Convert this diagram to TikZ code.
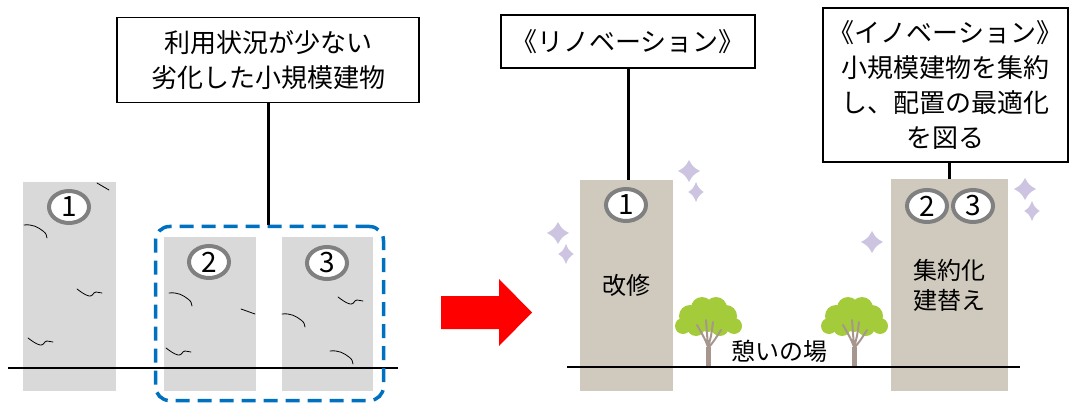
\documentclass[tikz,border=0pt]{standalone}
\usepackage{fontspec}
\setmainfont{Noto Sans CJK JP}
\usetikzlibrary{shapes.geometric}

\definecolor{oldgray}{RGB}{217,217,217}
\definecolor{newbeige}{RGB}{208,201,189}
\definecolor{ringgray}{RGB}{128,128,128}
\definecolor{groupblue}{RGB}{0,112,192}
\definecolor{sparklepurple}{RGB}{204,196,224}
\definecolor{leafgreen}{RGB}{164,204,58}
\definecolor{trunkbrown}{RGB}{166,150,142}

\tikzset{
	textbox/.style={draw,line width=1.5pt,align=center,inner sep=0pt,
		font=\fontsize{26}{35}\selectfont},
	oldbldg/.style={fill=oldgray,inner sep=0pt},
	newbldg/.style={fill=newbeige,inner sep=0pt,align=center,
		font=\fontsize{24}{30}\selectfont},
	numring/.style={ellipse,draw=ringgray,line width=4pt,fill=white,
		minimum width=40pt,minimum height=32pt,inner sep=0pt,
		font=\fontsize{28}{28}\selectfont},
	link/.style={line width=3pt},
	ground/.style={line width=2.5pt},
	crackline/.style={line width=.8pt,line cap=round},
	% crack ending with a drop
	crackdrop/.pic={
		\draw[crackline] (0,0) .. controls (8,-1) and (14,2) .. (19,6)
		.. controls (22,8) and (23,11) .. (23,13);
	},
	% crack with a dip and a flat tail
	crackstep/.pic={
		\draw[crackline] (0,0) .. controls (4,3) and (8,6) .. (12,7)
		.. controls (16,8) and (16,3) .. (19,3)
		.. controls (21,3) and (23,4) .. (25,4);
	},
	sparkle/.pic={
		\fill[sparklepurple] (0,-11) .. controls (4,-4) .. (11,0)
		.. controls (4,4) .. (0,11) .. controls (-4,4) .. (-11,0)
		.. controls (-4,-4) .. cycle;
	},
	tree/.pic={
		\fill[leafgreen] (-6,-59) circle (11) (8,-59) circle (11)
		(-18,-51) circle (11) (18,-51) circle (11) (0,-48) circle (13)
		(-25,-41) circle (8) (26,-41) circle (8) (-12,-40) circle (9)
		(12,-40) circle (9);
		\draw[trunkbrown,line width=5pt] (0,0) -- (0,-20);
		\draw[trunkbrown,line width=2pt,line cap=round]
		(0,-20) .. controls (-3,-28) .. (-11,-42)
		(0,-20) -- (-2,-47)
		(0,-20) .. controls (3,-30) .. (5,-45)
		(1,-20) .. controls (6,-26) .. (13,-37);
	},
}

\begin{document}
\begin{tikzpicture}[x=1pt,y=-1pt]
	\useasboundingbox (0,0) rectangle (1075,403);
	
	% before: three old buildings
	\node[oldbldg,minimum width=93pt,minimum height=209pt] (bldA) at (69.5,286.5) {};
	\node[oldbldg,minimum width=92pt,minimum height=154pt] (bldB) at (210,314) {};
	\node[oldbldg,minimum width=91pt,minimum height=154pt] (bldC) at (327.5,314) {};
	\draw[crackline] (97,183) -- (109,190);
	\draw[crackline] (241,309) -- (255,314);
	\pic at (24,225) {crackdrop};
	\pic at (77,289) {crackstep};
	\pic at (28,338) {crackstep};
	\pic at (169,293) {crackdrop};
	\pic at (166,348) {crackstep};
	\pic at (338,297) {crackstep};
	\pic at (282,314) {crackdrop};
	\pic at (330,351) {crackdrop};
	\coordinate (gA) at (8,368);
	\coordinate (gB) at (398,368);
	\draw[ground] (gA) -- (gB);
	\node[draw=groupblue,line width=3.5pt,dash pattern=on 14pt off 8pt,
	rounded corners=14pt,minimum width=228pt,minimum height=174pt] (group) at (269.5,313.5) {};
	\node[numring] (num1) at (69,207) {1};
	\node[numring] (num2) at (209,262) {2};
	\node[numring] (num3) at (327,263) {3};
	\node[textbox,minimum width=302pt,minimum height=85pt] (oldbox) at (268,60)
	{利用状況が少ない\\劣化した小規模建物};
	\draw[link] (oldbox.south) -- (oldbox.south |- group.north);
	
	% arrow
	\fill[red] (441,296) -- (499,296) -- (499,279) -- (532,312.5)
	-- (499,346) -- (499,329) -- (441,329) -- cycle;
	
	% after: renovated and rebuilt buildings
	\node[newbldg,minimum width=93pt,minimum height=211pt] (renobldg) at (626.5,285.5) {改修};
	\node[newbldg,minimum width=117pt,minimum height=212pt] (innobldg) at (949.5,285) {集約化\\建替え};
	\pic at (708,367) {tree};
	\pic at (854,367) {tree};
	\coordinate (gC) at (567,367);
	\coordinate (gD) at (1020,367);
	\draw[ground] (gC) -- (gD);
	\node[font=\fontsize{24}{24}\selectfont] (plaza) at (779,351) {憩いの場};
	\node[numring] (renonum) at (626,205) {1};
	\node[numring] (innonum2) at (927,206) {2};
	\node[numring] (innonum3) at (973,206) {3};
	\pic at (558,233) {sparkle};
	\pic[xscale=.7,yscale=.9] at (566,254) {sparkle};
	\pic at (689,171) {sparkle};
	\pic[xscale=.7,yscale=.9] at (696,192) {sparkle};
	\pic at (872,242) {sparkle};
	\pic at (1025,189) {sparkle};
	\pic[xscale=.7,yscale=.9] at (1032,211) {sparkle};
	\node[textbox,minimum width=254pt,minimum height=53pt] (renobox) at (628,41.5)
	{《リノベーション》};
	\node[textbox,minimum width=245pt,minimum height=154pt] (innobox) at (945.5,85)
	{《イノベーション》\\小規模建物を集約\\し、配置の最適化\\を図る};
	\draw[link] (renobox.south) -- (renobox.south |- renobldg.north);
	\draw[link] (innobldg.north |- innobox.south) -- (innobldg.north);
\end{tikzpicture}
\end{document}
